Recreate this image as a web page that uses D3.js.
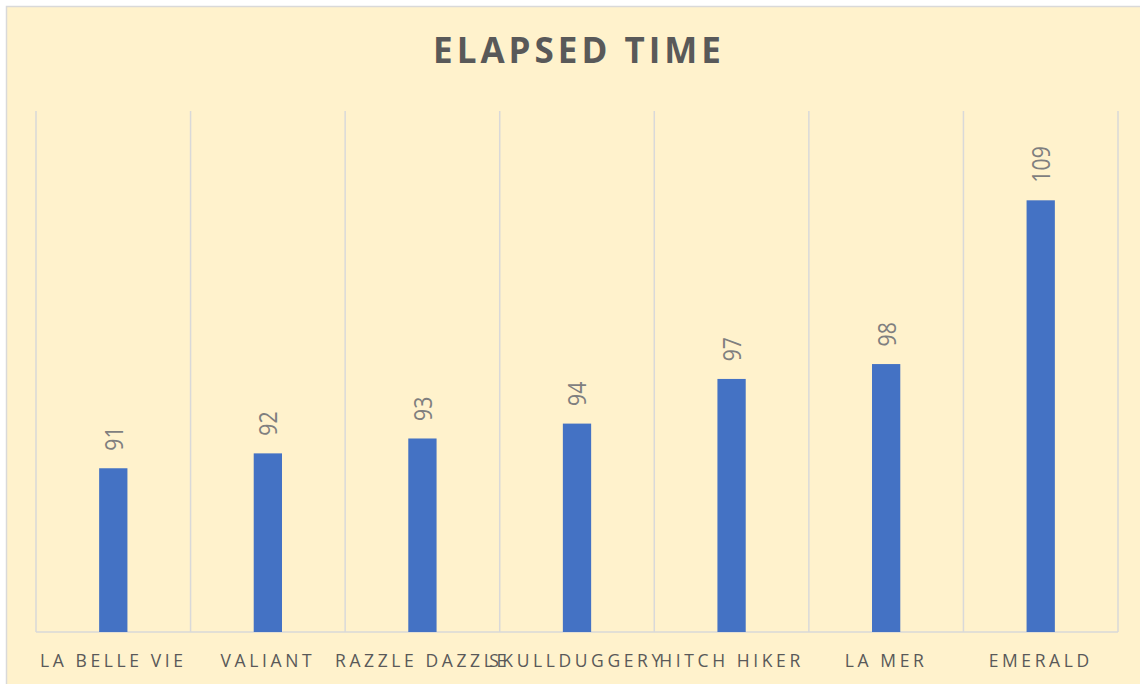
<!DOCTYPE html>
<html>
<head>
<meta charset="utf-8">
<script src="https://cdn.jsdelivr.net/npm/d3@7"></script>
<style>
  html, body { margin: 0; padding: 0; background: #ffffff; }
  svg { display: block; }
</style>
</head>
<body>
<div id="chart"></div>
<script>
// ===========================
// Elapsed Time column chart
// ===========================

const chartTitle = 'ELAPSED TIME';
const boats = ['LA BELLE VIE', 'VALIANT', 'RAZZLE DAZZLE', 'SKULLDUGGERY', 'HITCH HIKER', 'LA MER', 'EMERALD'];
const elapsed = [91, 92, 93, 94, 97, 98, 109];
const yDomain = [80, 115];

const width = 1140;
const height = 684;
const plot = { left: 36, right: 1118, top: 111, bottom: 632 };

const svg = d3.select('#chart')
    .append('svg')
    .attr('width', width)
    .attr('height', height);

// chart area background (frame runs off the right and bottom edge)
svg.append('rect')
    .attr('x', 6.5)
    .attr('y', 6.5)
    .attr('width', width + 10)
    .attr('height', height + 10)
    .attr('fill', '#fff2cc')
    .attr('stroke', '#d9d9d9')
    .attr('stroke-width', 1.5);

// Scales
const xScale = d3.scaleBand()
    .domain(boats)
    .range([plot.left, plot.right])
    .padding(0);

const yScale = d3.scaleLinear()
    .domain(yDomain)
    .range([plot.bottom, plot.top]);

const barWidth = xScale.bandwidth() * 0.183;

// vertical gridlines between categories
const edges = boats.map(b => xScale(b)).concat([plot.right]);
svg.append('g')
    .selectAll('line')
    .data(edges)
    .join('line')
    .attr('x1', d => d)
    .attr('x2', d => d)
    .attr('y1', plot.top)
    .attr('y2', plot.bottom)
    .attr('stroke', '#d9d9d9')
    .attr('stroke-width', 1.5);

// category axis line
svg.append('line')
    .attr('x1', plot.left)
    .attr('x2', plot.right)
    .attr('y1', plot.bottom)
    .attr('y2', plot.bottom)
    .attr('stroke', '#d9d9d9')
    .attr('stroke-width', 1.5);

// Bars
const data = boats.map((b, i) => ({ boat: b, value: elapsed[i] }));

svg.append('g')
    .selectAll('rect')
    .data(data)
    .join('rect')
    .attr('x', d => xScale(d.boat) + xScale.bandwidth() / 2 - barWidth / 2)
    .attr('y', d => yScale(d.value))
    .attr('width', barWidth)
    .attr('height', d => yScale(yDomain[0]) - yScale(d.value))
    .attr('fill', '#4472c4');

// value labels, rotated
svg.append('g')
    .selectAll('text')
    .data(data)
    .join('text')
    .attr('transform', d => {
        const cx = xScale(d.boat) + xScale.bandwidth() / 2 + 9.4;
        const cy = yScale(d.value) - 17.6;
        return `translate(${cx},${cy}) rotate(-90) scale(0.82,1)`;
    })
    .attr('text-anchor', 'start')
    .attr('fill', '#7f7f7f')
    .style('font-family', '"Open Sans", "Noto Sans", sans-serif')
    .style('font-size', '26px')
    .text(d => d.value);

// category labels
svg.append('g')
    .selectAll('text')
    .data(boats)
    .join('text')
    .attr('x', d => xScale(d) + xScale.bandwidth() / 2)
    .attr('y', 667)
    .attr('text-anchor', 'middle')
    .attr('fill', '#595959')
    .style('font-family', '"Open Sans", "Noto Sans", sans-serif')
    .style('font-size', '17.5px')
    .style('letter-spacing', '3.6px')
    .text(d => d);

// Title
svg.append('text')
    .attr('x', 579)
    .attr('y', 63.3)
    .attr('text-anchor', 'middle')
    .attr('fill', '#595959')
    .style('font-family', '"Open Sans", "Noto Sans", sans-serif')
    .style('font-size', '35px')
    .style('font-weight', '700')
    .style('letter-spacing', '4px')
    .text(chartTitle);
</script>
</body>
</html>
